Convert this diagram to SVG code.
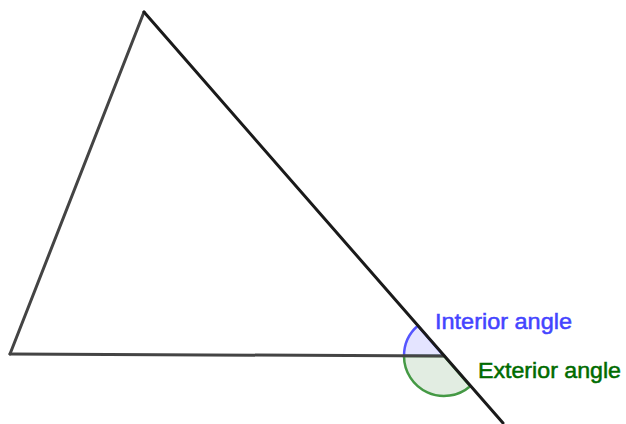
<svg xmlns="http://www.w3.org/2000/svg" width="626" height="424" viewBox="0 0 626 424">
<style>
.side{stroke:#1a1a1a;stroke-width:3;fill:none;stroke-linecap:round}
.left{stroke:#444}
.int{fill:#e4e4ff;stroke:#5555ff;stroke-width:2.5}
.ext{fill:#e2ede2;stroke:#449944;stroke-width:2.5}
.lbl{font-family:"Liberation Sans",Arial,sans-serif;font-size:22px;stroke-width:0.5}
</style>
<rect width="626" height="424" fill="#fff"/>
<g id="angles">
<g id="interior-angle">
<path class="int" d="M444,356 L404,356 A40,40 0 0 1 417.8,325.8 Z"/>
</g>
<g id="exterior-angle">
<path class="ext" d="M444,356 L404,356 A40,40 0 0 0 470.2,386.2 Z"/>
</g>
</g>
<g id="connectors">
<line class="side left" x1="144" y1="12" x2="10" y2="354"/>
<line class="side left" x1="10" y1="354" x2="444" y2="356"/>
<line class="side" x1="144" y1="12" x2="503" y2="423"/>
</g>
<g id="labels">
<text class="lbl" x="435" y="328.5" fill="#4444ff" stroke="#4444ff" textLength="137" lengthAdjust="spacingAndGlyphs">Interior angle</text>
<text class="lbl" x="478" y="378" fill="#006b00" stroke="#006b00" textLength="143" lengthAdjust="spacingAndGlyphs">Exterior angle</text>
</g>
</svg>
